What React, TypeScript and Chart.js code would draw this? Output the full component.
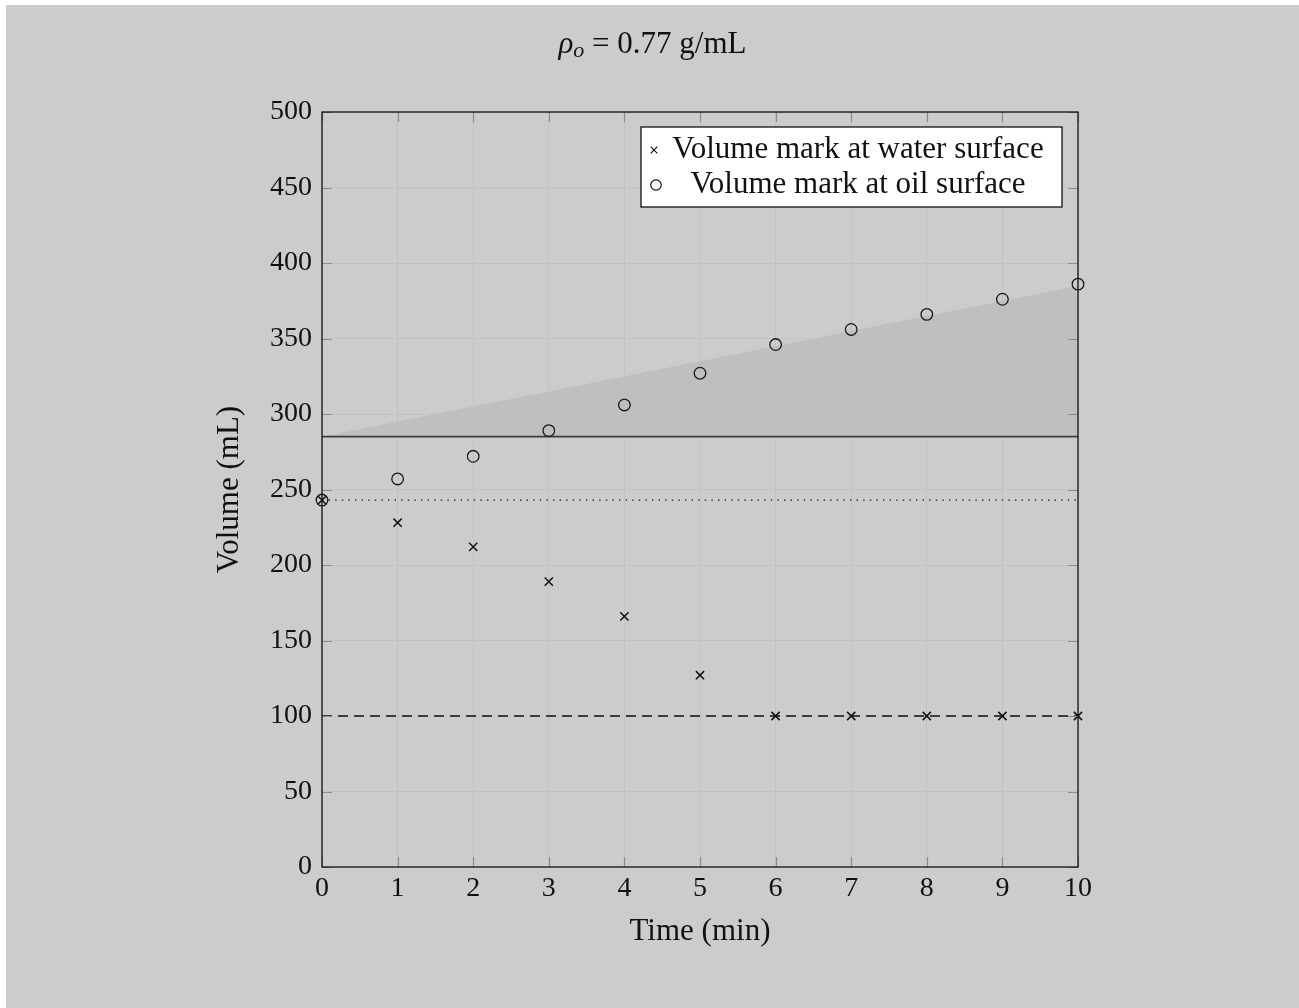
import React, { useEffect, useRef } from "react";
import { Chart, registerables } from "chart.js";

Chart.register(...registerables);

// ---- data ----
const timeMin = [0, 1, 2, 3, 4, 5, 6, 7, 8, 9, 10];
const waterMark = [243, 228, 212, 189, 166, 127, 100, 100, 100, 100, 100];
const oilMark = [243, 257, 272, 289, 306, 327, 346, 356, 366, 376, 386];
const refTimes = [0, 10];
const initialOilLevel = [285, 285];
const expectedOilLevel = [285, 385];
const initialWaterLevel = [243, 243];
const finalWaterLevel = [100, 100];
const xTickValues = [0, 1, 2, 3, 4, 5, 6, 7, 8, 9, 10];
const yTickValues = [0, 50, 100, 150, 200, 250, 300, 350, 400, 450, 500];
const legendLabels = ["Volume mark at water surface", "Volume mark at oil surface"];
const xTitle = "Time (min)";
const yTitle = "Volume (mL)";

const SERIF = "'Liberation Serif', 'Times New Roman', serif";
const TEXT_SIZE = 31;
const TICK_SIZE = 28;

const pts = (xs: number[], ys: number[]) => xs.map((x, i) => ({ x, y: ys[i] }));

const overlayPlugin = {
  id: "overlay",
  afterDatasetsDraw(chart: any) {
    const { ctx, chartArea } = chart;
    const { left, right, top, bottom } = chartArea;
    const xs = chart.scales.x;
    const ys = chart.scales.y;
    ctx.save();
    ctx.strokeStyle = "#8c8c8c";
    ctx.lineWidth = 1.2;
    const tl = 10;
    ctx.beginPath();
    xTickValues.forEach((v) => {
      const px = Math.round(xs.getPixelForValue(v)) + 0.5;
      ctx.moveTo(px, bottom);
      ctx.lineTo(px, bottom - tl);
      ctx.moveTo(px, top);
      ctx.lineTo(px, top + tl);
    });
    yTickValues.forEach((v) => {
      const py = Math.round(ys.getPixelForValue(v)) + 0.5;
      ctx.moveTo(left, py);
      ctx.lineTo(left + tl, py);
      ctx.moveTo(right, py);
      ctx.lineTo(right - tl, py);
    });
    ctx.stroke();
    ctx.strokeStyle = "#111";
    ctx.lineWidth = 1.3;
    ctx.strokeRect(left, top, right - left, bottom - top);
    ctx.restore();
  },
  afterDraw(chart: any) {
    const { ctx, chartArea, width } = chart;
    const { left, right, top, bottom } = chartArea;
    ctx.save();
    ctx.fillStyle = "#111";
    ctx.textBaseline = "middle";

    // title: rho_o = 0.77 g/mL
    const f1 = `italic ${TEXT_SIZE}px ${SERIF}`;
    const f2 = `italic ${Math.round(TEXT_SIZE * 0.7)}px ${SERIF}`;
    const f3 = `${TEXT_SIZE}px ${SERIF}`;
    const segs = [
      { t: "\u03C1", f: f1, dy: 0 },
      { t: "o", f: f2, dy: 6 },
      { t: " = 0.77 g/mL", f: f3, dy: 0 },
    ];
    let total = 0;
    segs.forEach((s) => {
      ctx.font = s.f;
      total += ctx.measureText(s.t).width;
    });
    let cx = width / 2 - total / 2;
    const ty = 40;
    ctx.textAlign = "left";
    segs.forEach((s) => {
      ctx.font = s.f;
      ctx.fillText(s.t, cx, ty + s.dy);
      cx += ctx.measureText(s.t).width;
    });

    // axis titles
    ctx.font = `${TEXT_SIZE}px ${SERIF}`;
    ctx.textAlign = "center";
    ctx.fillText(xTitle, (left + right) / 2, bottom + 65);
    ctx.save();
    ctx.translate(left - 92, (top + bottom) / 2);
    ctx.rotate(-Math.PI / 2);
    ctx.fillText(yTitle, 0, 0);
    ctx.restore();

    // legend
    const bw = 421;
    const bh = 80;
    const bx = right - 16 - bw;
    const by = top + 15;
    ctx.fillStyle = "#fff";
    ctx.fillRect(bx, by, bw, bh);
    ctx.strokeStyle = "#111";
    ctx.lineWidth = 1.3;
    ctx.strokeRect(bx, by, bw, bh);
    const r1 = by + 23;
    const r2 = by + 58;
    ctx.lineWidth = 1.2;
    ctx.beginPath();
    const mx = bx + 13;
    const c = 3.3;
    ctx.moveTo(mx - c, r1 - c);
    ctx.lineTo(mx + c, r1 + c);
    ctx.moveTo(mx + c, r1 - c);
    ctx.lineTo(mx - c, r1 + c);
    ctx.stroke();
    ctx.beginPath();
    ctx.arc(bx + 15, r2, 5.2, 0, Math.PI * 2);
    ctx.stroke();
    ctx.fillStyle = "#111";
    ctx.font = `${TEXT_SIZE}px ${SERIF}`;
    ctx.textAlign = "center";
    ctx.fillText(legendLabels[0], bx + 217, r1);
    ctx.fillText(legendLabels[1], bx + 217, r2);
    ctx.restore();
  },
};

export default function App() {
  const ref = useRef<HTMLCanvasElement | null>(null);
  useEffect(() => {
    if (!ref.current) return;
    const W = 1293;
    const H = 1003;
    const plotLeft = 316;
    const plotTop = 107;
    const plotRight = 1072;
    const plotBottom = 862;
    const chart = new Chart(ref.current, {
      type: "line",
      data: {
        datasets: [
          {
            label: legendLabels[0],
            data: pts(timeMin, waterMark),
            showLine: false,
            clip: false,
            pointStyle: "crossRot",
            pointRadius: 5.8,
            pointBorderColor: "#111",
            pointBorderWidth: 1.5,
            borderColor: "#111",
            backgroundColor: "transparent",
          } as any,
          {
            label: legendLabels[1],
            data: pts(timeMin, oilMark),
            showLine: false,
            clip: false,
            pointStyle: "circle",
            pointRadius: 5.8,
            pointBorderColor: "#1a1a1a",
            pointBorderWidth: 1.3,
            pointBackgroundColor: "transparent",
            borderColor: "#1a1a1a",
            backgroundColor: "transparent",
          } as any,
          {
            label: "initial oil",
            data: pts(refTimes, initialOilLevel),
            borderColor: "#3c3c3c",
            borderWidth: 1.6,
            pointRadius: 0,
            fill: false,
          },
          {
            label: "initial water",
            data: pts(refTimes, initialWaterLevel),
            borderColor: "#111",
            borderWidth: 1.3,
            borderDash: [1.4, 5.2],
            pointRadius: 0,
            fill: false,
          },
          {
            label: "final water",
            data: pts(refTimes, finalWaterLevel),
            borderColor: "#111",
            borderWidth: 1.4,
            borderDash: [10, 6],
            pointRadius: 0,
            fill: false,
          },
          {
            label: "expected oil",
            data: pts(refTimes, expectedOilLevel),
            borderColor: "rgba(0,0,0,0)",
            borderWidth: 0,
            backgroundColor: "#bfbfbf",
            pointRadius: 0,
            fill: 2,
          },
        ],
      },
      options: {
        animation: false,
        responsive: false,
        maintainAspectRatio: false,
        devicePixelRatio: 1,
        layout: {
          padding: { left: 0, top: plotTop, right: W - plotRight, bottom: 0 },
        },
        plugins: {
          legend: { display: false },
          title: { display: false },
          tooltip: { enabled: false },
        },
        scales: {
          x: {
            type: "linear",
            min: 0,
            max: 10,
            afterBuildTicks: (s: any) => {
              s.ticks = xTickValues.map((v) => ({ value: v }));
            },
            afterFit: (s: any) => {
              s.height = H - plotBottom;
            },
            ticks: {
              color: "#111",
              font: { family: SERIF, size: TICK_SIZE },
              padding: 5,
              maxRotation: 0,
              autoSkip: false,
            },
            grid: { color: "#c2c2c2", lineWidth: 1, drawTicks: false },
            border: { display: false },
          },
          y: {
            type: "linear",
            min: 0,
            max: 500,
            afterBuildTicks: (s: any) => {
              s.ticks = yTickValues.map((v) => ({ value: v }));
            },
            afterFit: (s: any) => {
              s.width = plotLeft;
            },
            ticks: {
              color: "#111",
              font: { family: SERIF, size: TICK_SIZE },
              padding: 10,
              autoSkip: false,
            },
            grid: { color: "#c2c2c2", lineWidth: 1, drawTicks: false },
            border: { display: false },
          },
        },
      },
      plugins: [overlayPlugin],
    } as any);
    return () => chart.destroy();
  }, []);
  return (
    <div
      style={{
        position: "absolute",
        left: 6,
        top: 5,
        width: 1293,
        height: 1003,
        background: "#cccccc",
      }}
    >
      <canvas ref={ref} width={1293} height={1003} style={{ width: 1293, height: 1003, display: "block" }} />
    </div>
  );
}
